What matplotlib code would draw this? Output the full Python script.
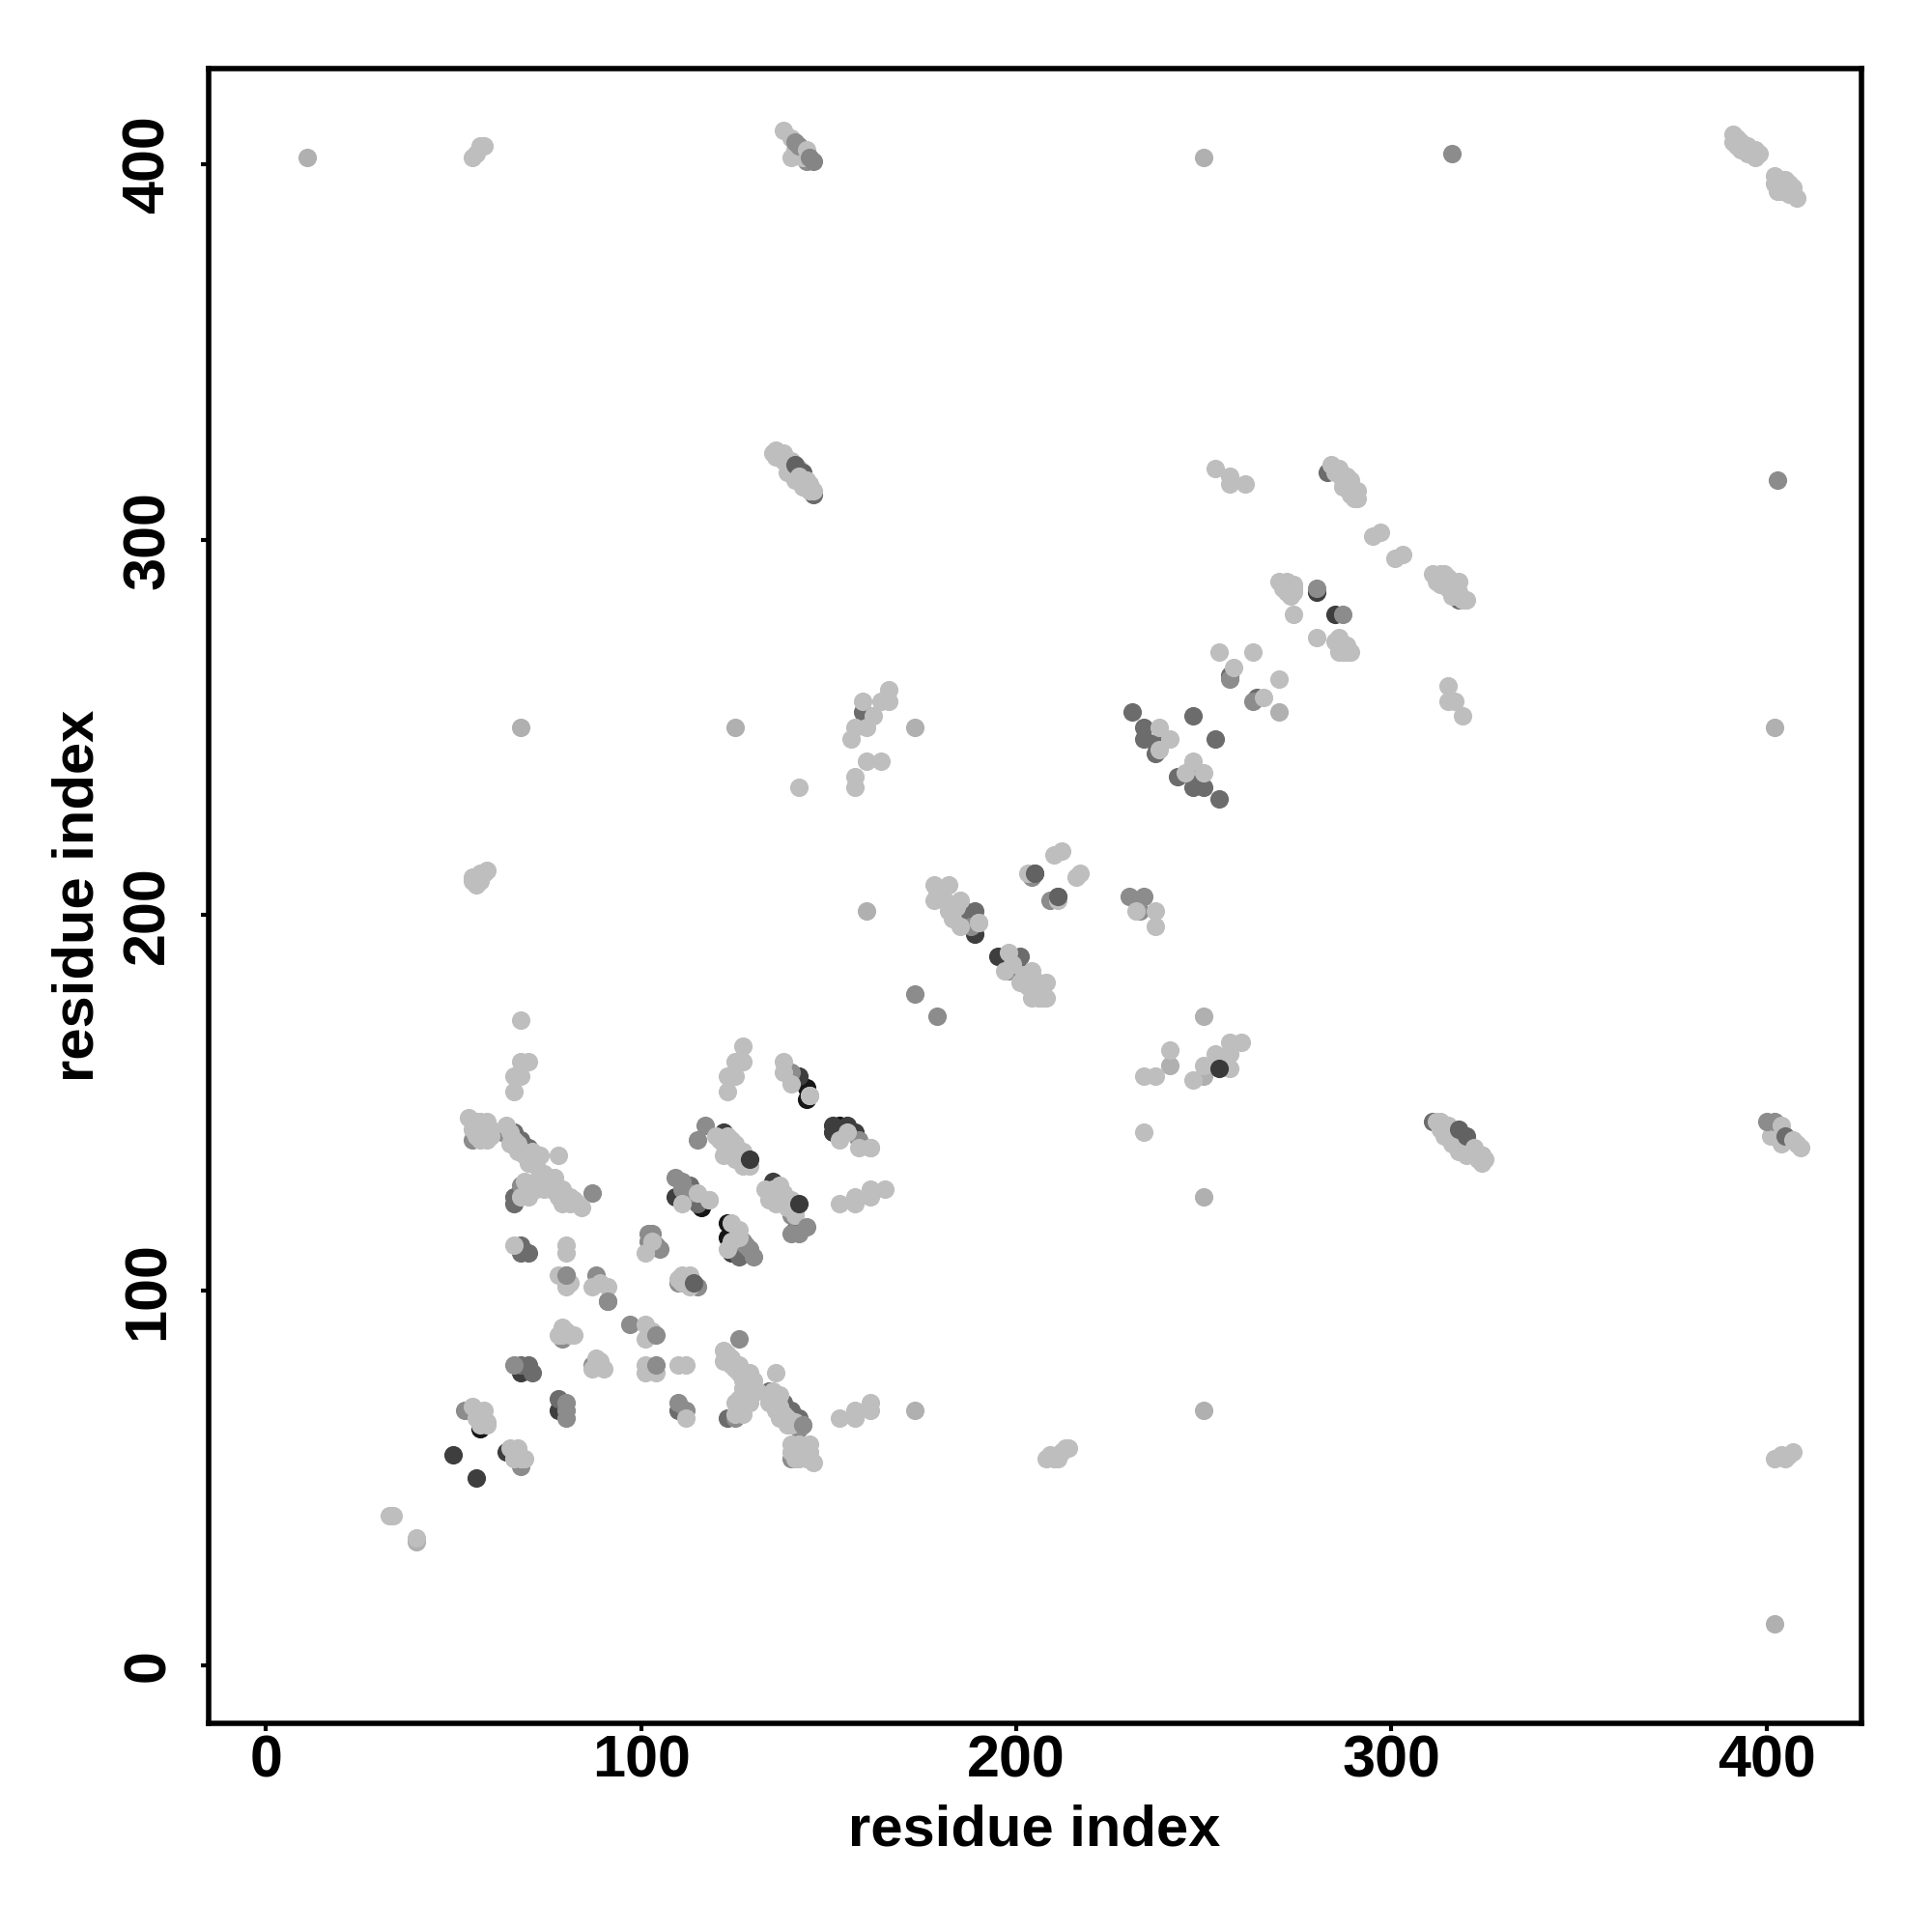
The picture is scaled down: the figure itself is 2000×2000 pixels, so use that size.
import matplotlib
matplotlib.use("Agg")
import matplotlib.pyplot as plt

# contact map, one list per grey level
black = [(144,154),(144,151),(110,125),(116,122),(123,118),(123,114),(198,188),(153,144),(153,142),(57,63)]

very_dark = [(50,56),(56,50),(142,157),(151,144),(151,142),(155,144),(157,142),(122,142),(135,129),
             (109,125),(124,110),(189,195),(189,198),(195,189),(78,68),(68,78),(280,286),(285,280),(64,57)]

dark = [(66,142),(68,140),(70,138),(66,125),(66,123),(68,112),(68,110),(70,110),(68,80),(70,80),(71,78),
        (78,71),(110,68),(123,66),(134,73),(138,70),(140,68),(142,66),(113,128),(115,123),(126,109),
        (141,116),(186,201),(189,201),(186,198),(201,189),(201,185),(159,254),(234,250),(234,247),
        (237,246),(237,243),(243,237),(247,238),(247,234),(250,234),(254,231),(231,254),(247,253),(253,247),
        (257,264),(264,258),(283,318),(318,284),(146,312),
        (324,136),(311,145),(205,211),(211,205),(112,126),(114,124),(125,112),(127,111)]

mid = [(55,140),(63,142),(68,128),(87,126),(66,80),(53,68),(68,53),(80,66),(80,68),(80,70),(110,70),(112,68),
       (126,87),(125,66),(142,63),(140,55),(91,97),(97,91),(88,104),(80,104),(79,87),(87,80),(102,115),(105,111),
       (110,102),(115,101),(109,130),(111,129),(117,144),(115,140),(140,120),(140,115),(142,115),(127,113),
       (129,111),(130,109),(173,179),(179,173),(188,197),(198,185),(204,210),(209,204),(230,205),(234,205),
       (233,201),(263,257),(257,263),(144,401),(316,403),(403,316),(158,140),(140,158),(404,140),
       (102,113),(103,115),(104,112),(112,102),(113,126),(111,127),(126,113),(128,112),(80,88)]

light_mid = [(11,402),(250,402),(68,250),(125,250),(173,250),(402,250),(250,173),(250,157),(241,160),(250,125),
             (250,68),(173,68),(160,201),(40,33),(270,254),(402,11)]

light = [(55,402),(56,403),(57,405),(58,405),(138,409),(140,407),(141,404),(140,402),(143,402),
         (391,408),(392,407),(392,405),(393,406),(394,404),(395,405),(396,403),(397,404),(398,403),
         (393,404),(395,403),(391,406),(397,402),
         (402,397),(403,395),(404,396),(405,394),(406,395),(404,393),(406,392),(407,392),(408,391),
         (402,395),(403,393),(405,396),(407,394),
         (135,323),(136,324),(137,322),(138,323),(139,320),(140,321),(141,318),(142,319),(143,316),(144,314),
         (136,322),(138,321),(140,319),(139,318),(141,316),(143,314),(145,313),
         (253,319),(257,317),(257,315),(261,315),
         (284,320),(285,318),(286,319),(287,316),(288,317),(289,316),(287,314),(288,314),(290,313),(291,313),(291,311),(289,312),(290,311),
         (295,301),(297,302),(301,295),(303,296),
         (311,291),(312,289),(313,291),(314,291),(313,288),(315,287),(316,289),(317,287),(316,285),(318,289),(318,286),(319,284),(320,284),
         (314,288),(315,290),(317,285),
         (270,289),(271,287),(272,289),(273,285),(274,288),(274,287),(273,287),(274,286),(271,288),(272,286),(272,287),(273,288),
         (274,280),(280,274),(285,273),(286,272),(287,272),(288,270),(287,270),(289,270),(288,272),(286,270),(286,274),
         (254,270),(263,270),(258,266),(270,263),(266,258),(315,261),(315,257),(317,257),(319,253),
         (238,250),(241,247),(238,244),(247,241),(250,238),(245,238),
         (156,247),(157,250),(159,257),(160,250),(162,253),(164,257),(166,257),(166,260),(157,237),(157,234),(160,241),(164,241),(142,234),
         (55,210),(55,209),(56,208),(57,211),(58,211),(59,212),(57,209),
         (210,216),(212,217),(203,211),(216,210),(217,211),(211,204),(232,201),(237,201),(237,197),
         (178,208),(182,208),(178,204),(181,204),(185,204),(182,201),(185,197),(190,198),(179,206),(180,207),(183,203),(184,202),(183,199),
         (198,190),(197,185),(204,185),(201,182),(204,182),(208,182),(204,178),(208,178),(207,178),(199,187),(202,184),(203,181),(205,180),(206,182),(206,178),
         (241,164),(234,157),(237,157),(247,156),(250,160),(253,163),(257,159),(257,163),(257,166),(260,166),(234,142),
         (161,138),(165,127),(161,127),(161,125),(157,125),(157,123),(153,123),
         (68,172),(127,165),(68,161),(70,161),(66,157),(68,157),(66,153),(125,161),(127,161),(123,157),(125,157),(123,153),
         (138,161),(138,158),(140,155),(145,152),(155,142),(153,140),(158,138),(161,138),
         (54,146),(56,145),(59,145),(55,143),(57,140),(59,140),(60,143),(58,143),(55,145),(56,143),(57,145),(58,141),(56,141),(60,141),
         (64,144),(65,139),(67,137),(71,137),(73,136),(78,136),(70,134),(72,133),(65,142),(66,140),(67,139),(68,137),(69,136),(70,136),(71,135),(72,135),
         (69,129),(74,131),(77,130),(74,127),(79,127),(70,125),(68,125),(78,125),(81,125),(84,122),(81,123),(79,123),
         (72,129),(73,128),(75,128),(76,127),(77,127),(78,126),(80,125),(80,124),(82,124),(83,123),(75,130),(72,127),(71,127),
         (66,112),(80,112),(80,110),(78,104),(81,102),(80,101),(87,101),(89,102),(91,101),
         (79,90),(82,88),(81,88),(101,91),(103,89),(101,87),(88,82),(89,81),(90,79),(87,79),(79,88),(80,89),(78,88),(88,80),
         (101,80),(104,78),(102,79),(110,80),(112,80),(101,78),
         (122,84),(124,82),(122,81),(126,80),(129,78),(130,76),(129,74),(127,78),(125,70),(127,69),(129,70),(125,67),(127,67),
         (123,83),(124,80),(125,80),(126,78),(127,76),(128,77),(129,76),(128,75),(127,74),(130,74),(131,73),(125,79),(128,72),(126,71),(127,71),
         (136,78),(135,73),(134,70),(137,66),(140,64),(143,64),(136,71),(137,69),(138,67),(139,66),(136,68),(139,64),(141,65),(135,71),(137,72),
         (140,59),(145,59),(144,57),(146,54),(142,55),(140,57),(141,58),(142,57),(143,56),(144,55),(145,57),(143,58),(141,55),(142,59),(145,55),
         (153,66),(157,68),(157,66),(161,70),(161,68),(112,66),
         (55,69),(57,67),(59,65),(65,58),(67,56),(69,55),(56,68),(58,66),(56,66),(58,68),(57,64),(59,64),(66,57),(68,55),(66,55),(67,58),
         (103,113),(101,110),(111,104),(113,104),(113,101),(111,102),(110,103),
         (111,123),(115,126),(118,124),(120,141),(124,140),(122,136),(125,137),(126,135),(127,133),
         (121,140),(122,139),(123,138),(124,136),(125,135),(126,136),(127,137),(128,134),(129,133),(127,135),(125,139),(123,141),
         (133,127),(137,128),(136,123),(134,124),(138,124),(124,118),(126,116),(123,111),(124,113),(126,114),
         (135,127),(136,126),(137,125),(138,123),(139,122),(140,122),(138,126),(140,124),(141,121),(141,120),
         (312,145),(313,143),(314,144),(315,143),(316,141),(317,142),(318,139),(319,140),(320,138),(321,137),(323,135),(324,134),
         (313,145),(315,144),(317,140),(316,139),(319,137),(322,136),(320,136),(314,141),(318,137),
         (401,141),(402,143),(403,141),(404,139),
         (402,55),(404,56),(405,55),(406,56),(407,57),
         (208,55),(209,56),(210,55),(211,55),(212,57),(213,58),(214,58),
         (33,40),(34,40),(40,34)]

# these sit on top of the light ones in the reference
top_very_dark = [(129,135),(142,123),(254,159)]
top_dark = [(205,211),(211,205),(114,102),(141,320),(143,318),(318,143),(320,141)]
top_mid = [(280,287),(287,280),(104,80),(104,88),(144,117),(91,97),(80,104),(143,64),
           (141,406),(142,405),(400,145),(402,145)]
top_light = [(145,152),(190,198),(118,124),(144,404),(404,144)]

# last layer of all
last_mid = [(145,402),(146,401)]
last_dark = [(405,141)]
last_light = [(142,317),(144,316),(145,315),(146,313),(322,138),(324,136),(325,135),(407,140),(408,139),(409,138)]

x_ticks = [0, 100, 200, 300, 400]
y_ticks = [0, 100, 200, 300, 400]

plt.rcParams['font.family'] = ['Liberation Sans', 'DejaVu Sans']
plt.rcParams['font.weight'] = 'bold'

fig = plt.figure(figsize=(20, 20), dpi=100)
ax = fig.add_axes([216/2000, 1-1784/2000, (1927-216)/2000, (1784-71)/2000])

tamano = 190
capas = [(black, '#161616'), (very_dark, '#3e3e3e'), (dark, '#6c6c6c'), (mid, '#8c8c8c'),
         (light_mid, '#b0b0b0'), (light, '#bebebe'),
         (top_very_dark, '#3a3a3a'), (top_dark, '#626262'), (top_mid, '#8c8c8c'), (top_light, '#bebebe'),
         (last_mid, '#858585'), (last_dark, '#6c6c6c'), (last_light, '#bebebe')]
for puntos, color in capas:
    xs = [p[0] for p in puntos]
    ys = [p[1] for p in puntos]
    ax.scatter(xs, ys, s=tamano, c=color, linewidths=0, zorder=3)

ax.set_xlim(-15.27, 425.3)
ax.set_ylim(-15.45, 425.6)
ax.set_xticks(x_ticks)
ax.set_yticks(y_ticks)
ax.tick_params(axis='x', length=6, width=3, labelsize=44, pad=2)
ax.tick_params(axis='y', length=6, width=3, labelsize=44, pad=18)
plt.setp(ax.get_yticklabels(), rotation=90, va='center')
for lado in ax.spines.values():
    lado.set_linewidth(4)

fig.text(1071/2000, 1-1895/2000, 'residue index', fontsize=43, fontweight='bold', ha='center', va='center')
fig.text(81/2000, 1-927/2000, 'residue index', fontsize=43, fontweight='bold', ha='center', va='center', rotation=90)

fig.savefig('out.png', dpi=100, facecolor='white')
